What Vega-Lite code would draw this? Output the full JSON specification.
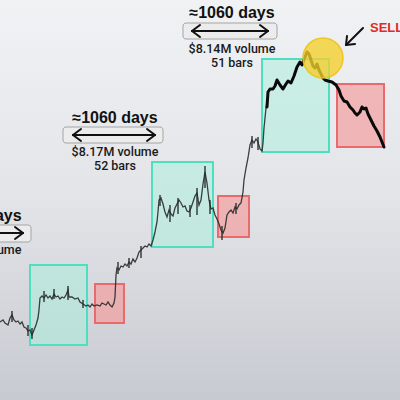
{
  "$schema": "https://vega.github.io/schema/vega-lite/v6.json",
  "width": 400,
  "height": 400,
  "padding": 0,
  "autosize": "none",
  "background": "#e5e6e9",
  "config": {"view": {"stroke": null}},
  "datasets": {
    "bg": [{"x": 0, "y": 0, "x2": 400, "y2": 400}],
    "boxes": [
      {"x": 30, "y": 265, "x2": 87, "y2": 345, "kind": "hold"},
      {"x": 95, "y": 284, "x2": 124, "y2": 323, "kind": "dip"},
      {"x": 152, "y": 162, "x2": 213, "y2": 247, "kind": "hold"},
      {"x": 218, "y": 196, "x2": 249, "y2": 237, "kind": "dip"},
      {"x": 262, "y": 59, "x2": 329, "y2": 152, "kind": "hold"},
      {"x": 337, "y": 84, "x2": 384, "y2": 147, "kind": "dip"}
    ],
    "candles": [
      {"x": 0, "y": 322}, {"x": 3, "y": 320}, {"x": 5, "y": 323}, {"x": 8, "y": 325}, {"x": 10, "y": 318},
      {"x": 12, "y": 315}, {"x": 14, "y": 320}, {"x": 16, "y": 322}, {"x": 18, "y": 321}, {"x": 20, "y": 324},
      {"x": 22, "y": 322}, {"x": 24, "y": 327}, {"x": 26, "y": 328}, {"x": 28, "y": 331}, {"x": 30, "y": 330},
      {"x": 32, "y": 335}, {"x": 34, "y": 330}, {"x": 36, "y": 325}, {"x": 38, "y": 318}, {"x": 39, "y": 310},
      {"x": 40, "y": 298}, {"x": 42, "y": 296}, {"x": 44, "y": 298}, {"x": 46, "y": 295}, {"x": 48, "y": 298},
      {"x": 50, "y": 296}, {"x": 52, "y": 299}, {"x": 54, "y": 294}, {"x": 56, "y": 297}, {"x": 58, "y": 296},
      {"x": 60, "y": 299}, {"x": 62, "y": 297}, {"x": 64, "y": 298}, {"x": 66, "y": 295}, {"x": 68, "y": 290},
      {"x": 69, "y": 297}, {"x": 72, "y": 297}, {"x": 75, "y": 299}, {"x": 78, "y": 298}, {"x": 80, "y": 302},
      {"x": 83, "y": 304}, {"x": 86, "y": 306}, {"x": 88, "y": 305}, {"x": 90, "y": 307}, {"x": 92, "y": 304},
      {"x": 94, "y": 306}, {"x": 97, "y": 305}, {"x": 100, "y": 306}, {"x": 102, "y": 303}, {"x": 104, "y": 304},
      {"x": 106, "y": 305}, {"x": 108, "y": 302}, {"x": 110, "y": 305}, {"x": 112, "y": 307}, {"x": 114, "y": 303},
      {"x": 115, "y": 297}, {"x": 116, "y": 275}, {"x": 117, "y": 268}, {"x": 119, "y": 270}, {"x": 121, "y": 266},
      {"x": 123, "y": 267}, {"x": 125, "y": 264}, {"x": 127, "y": 266}, {"x": 129, "y": 262}, {"x": 131, "y": 264},
      {"x": 133, "y": 259}, {"x": 135, "y": 262}, {"x": 137, "y": 258}, {"x": 139, "y": 252}, {"x": 141, "y": 250},
      {"x": 143, "y": 248}, {"x": 145, "y": 246}, {"x": 147, "y": 247}, {"x": 149, "y": 244}, {"x": 151, "y": 246},
      {"x": 153, "y": 240}, {"x": 155, "y": 232}, {"x": 157, "y": 222}, {"x": 158, "y": 212}, {"x": 159, "y": 200},
      {"x": 161, "y": 198}, {"x": 163, "y": 204}, {"x": 165, "y": 212}, {"x": 167, "y": 217}, {"x": 169, "y": 210},
      {"x": 171, "y": 214}, {"x": 173, "y": 216}, {"x": 175, "y": 208}, {"x": 177, "y": 204}, {"x": 179, "y": 200},
      {"x": 181, "y": 203}, {"x": 183, "y": 207}, {"x": 185, "y": 206}, {"x": 187, "y": 211}, {"x": 189, "y": 212},
      {"x": 191, "y": 208}, {"x": 193, "y": 202}, {"x": 195, "y": 196}, {"x": 197, "y": 193}, {"x": 199, "y": 205},
      {"x": 201, "y": 200}, {"x": 203, "y": 184}, {"x": 205, "y": 172}, {"x": 207, "y": 183}, {"x": 209, "y": 200},
      {"x": 211, "y": 209}, {"x": 213, "y": 208}, {"x": 215, "y": 215}, {"x": 217, "y": 219}, {"x": 219, "y": 224},
      {"x": 221, "y": 230}, {"x": 223, "y": 233}, {"x": 225, "y": 228}, {"x": 227, "y": 215}, {"x": 229, "y": 212},
      {"x": 231, "y": 210}, {"x": 233, "y": 213}, {"x": 235, "y": 207}, {"x": 237, "y": 209}, {"x": 239, "y": 205},
      {"x": 241, "y": 203}, {"x": 243, "y": 192}, {"x": 244, "y": 180}, {"x": 246, "y": 168}, {"x": 248, "y": 158},
      {"x": 250, "y": 145}, {"x": 252, "y": 140}, {"x": 254, "y": 143}, {"x": 256, "y": 139}, {"x": 258, "y": 142},
      {"x": 260, "y": 149}, {"x": 262, "y": 151}, {"x": 263, "y": 143}, {"x": 264, "y": 128}, {"x": 265, "y": 118},
      {"x": 266, "y": 108}, {"x": 267, "y": 102}
    ],
    "wicks": [
      {"x": 12, "y": 311, "y2": 322}, {"x": 28, "y": 325, "y2": 336}, {"x": 32, "y": 328, "y2": 339},
      {"x": 44, "y": 291, "y2": 302}, {"x": 54, "y": 289, "y2": 299}, {"x": 68, "y": 286, "y2": 300},
      {"x": 83, "y": 300, "y2": 308}, {"x": 118, "y": 262, "y2": 274}, {"x": 129, "y": 258, "y2": 268},
      {"x": 141, "y": 246, "y2": 258}, {"x": 160, "y": 195, "y2": 206}, {"x": 170, "y": 205, "y2": 222},
      {"x": 178, "y": 198, "y2": 214}, {"x": 190, "y": 205, "y2": 217}, {"x": 197, "y": 188, "y2": 215},
      {"x": 205, "y": 166, "y2": 188}, {"x": 210, "y": 200, "y2": 214}, {"x": 222, "y": 226, "y2": 240},
      {"x": 236, "y": 203, "y2": 214}, {"x": 252, "y": 136, "y2": 148}, {"x": 258, "y": 137, "y2": 150}
    ],
    "trend": [
      {"x": 267, "y": 107}, {"x": 268, "y": 92}, {"x": 270, "y": 89}, {"x": 273, "y": 89}, {"x": 275, "y": 86},
      {"x": 277, "y": 80}, {"x": 280, "y": 85}, {"x": 283, "y": 89}, {"x": 286, "y": 84}, {"x": 288, "y": 81},
      {"x": 291, "y": 83}, {"x": 294, "y": 76}, {"x": 297, "y": 67}, {"x": 300, "y": 62}, {"x": 302, "y": 65},
      {"x": 305, "y": 57}, {"x": 307, "y": 52}, {"x": 309, "y": 54}, {"x": 311, "y": 60}, {"x": 313, "y": 66},
      {"x": 315, "y": 68}, {"x": 317, "y": 64}, {"x": 319, "y": 70}, {"x": 321, "y": 74}, {"x": 323, "y": 78},
      {"x": 325, "y": 80}, {"x": 328, "y": 81}, {"x": 332, "y": 82}, {"x": 336, "y": 85}, {"x": 339, "y": 90},
      {"x": 341, "y": 96}, {"x": 344, "y": 101}, {"x": 347, "y": 102}, {"x": 350, "y": 107}, {"x": 353, "y": 110},
      {"x": 355, "y": 113}, {"x": 357, "y": 115}, {"x": 360, "y": 112}, {"x": 362, "y": 107}, {"x": 364, "y": 109},
      {"x": 366, "y": 108}, {"x": 368, "y": 114}, {"x": 371, "y": 120}, {"x": 374, "y": 126}, {"x": 377, "y": 131},
      {"x": 380, "y": 137}, {"x": 384, "y": 147}
    ],
    "circle": [{"x": 323, "y": 58}],
    "labelboxes": [
      {"x": 183, "y": 23, "x2": 277, "y2": 39},
      {"x": 63, "y": 127, "x2": 163, "y2": 143},
      {"x": -72, "y": 225, "x2": 31, "y2": 242}
    ],
    "segments": [
      {"x": 192, "y": 31, "x2": 268, "y2": 31}, {"x": 192, "y": 31, "x2": 200, "y2": 25}, {"x": 192, "y": 31, "x2": 200, "y2": 37},
      {"x": 268, "y": 31, "x2": 260, "y2": 25}, {"x": 268, "y": 31, "x2": 260, "y2": 37},
      {"x": 73, "y": 135, "x2": 155, "y2": 135}, {"x": 73, "y": 135, "x2": 81, "y2": 129}, {"x": 73, "y": 135, "x2": 81, "y2": 141},
      {"x": 155, "y": 135, "x2": 147, "y2": 129}, {"x": 155, "y": 135, "x2": 147, "y2": 141},
      {"x": -60, "y": 233, "x2": 23, "y2": 233}, {"x": 23, "y": 233, "x2": 15, "y2": 227}, {"x": 23, "y": 233, "x2": 15, "y2": 239},
      {"x": 363, "y": 28, "x2": 346, "y2": 45}, {"x": 346, "y": 45, "x2": 347, "y2": 36}, {"x": 346, "y": 45, "x2": 355, "y2": 44}
    ],
    "titles": [
      {"x": 232, "y": 18, "t": "≈1060 days"},
      {"x": 115, "y": 123, "t": "≈1060 days"},
      {"x": -21, "y": 221, "t": "≈1060 days"}
    ],
    "subs": [
      {"x": 232, "y": 53, "t": "$8.14M volume"},
      {"x": 232, "y": 67, "t": "51 bars"},
      {"x": 115, "y": 156, "t": "$8.17M volume"},
      {"x": 115, "y": 170, "t": "52 bars"},
      {"x": -22, "y": 254, "t": "$8.20M volume"}
    ],
    "sell": [{"x": 370, "y": 32, "t": "SELL"}]
  },
  "layer": [
    {
      "data": {"name": "bg"},
      "mark": {"type": "rect", "fill": {"gradient": "linear", "x1": 0, "y1": 0, "x2": 0, "y2": 1, "stops": [{"offset": 0, "color": "#f1f2f4"}, {"offset": 0.5, "color": "#e3e4e8"}, {"offset": 1, "color": "#c7cad1"}]}},
      "encoding": {
        "x": {"field": "x", "type": "quantitative", "scale": {"domain": [0, 400], "nice": false, "zero": false}, "axis": null},
        "x2": {"field": "x2"},
        "y": {"field": "y", "type": "quantitative", "scale": {"domain": [0, 400], "nice": false, "zero": false, "reverse": true}, "axis": null},
        "y2": {"field": "y2"}
      }
    },
    {
      "data": {"name": "boxes"},
      "mark": {"type": "rect", "strokeWidth": 2},
      "encoding": {
        "x": {"field": "x", "type": "quantitative"},
        "x2": {"field": "x2"},
        "y": {"field": "y", "type": "quantitative"},
        "y2": {"field": "y2"},
        "fill": {"field": "kind", "type": "nominal", "scale": {"domain": ["hold", "dip"], "range": ["#a8f0dc", "#f59a9a"]}, "legend": null},
        "fillOpacity": {"field": "kind", "type": "nominal", "scale": {"domain": ["hold", "dip"], "range": [0.5, 0.65]}, "legend": null},
        "stroke": {"field": "kind", "type": "nominal", "scale": {"domain": ["hold", "dip"], "range": ["#4ddfbf", "#e86a6a"]}, "legend": null}
      }
    },
    {
      "data": {"name": "candles"},
      "mark": {"type": "line", "color": "#262b2a", "strokeWidth": 1.3, "opacity": 0.9},
      "encoding": {
        "x": {"field": "x", "type": "quantitative"},
        "y": {"field": "y", "type": "quantitative"}
      }
    },
    {
      "data": {"name": "wicks"},
      "mark": {"type": "rule", "color": "#262b2a", "strokeWidth": 1.5, "opacity": 0.9},
      "encoding": {
        "x": {"field": "x", "type": "quantitative"},
        "y": {"field": "y", "type": "quantitative"},
        "y2": {"field": "y2"}
      }
    },
    {
      "data": {"name": "trend"},
      "mark": {"type": "line", "color": "#0a0a0a", "strokeWidth": 3, "strokeCap": "round", "strokeJoin": "round"},
      "encoding": {
        "x": {"field": "x", "type": "quantitative"},
        "y": {"field": "y", "type": "quantitative"}
      }
    },
    {
      "data": {"name": "circle"},
      "mark": {"type": "point", "shape": "circle", "size": 1600, "filled": true, "fill": "#f5cf2a", "fillOpacity": 0.78, "stroke": "#efc21a", "strokeWidth": 1.5, "strokeOpacity": 0.9},
      "encoding": {
        "x": {"field": "x", "type": "quantitative"},
        "y": {"field": "y", "type": "quantitative"}
      }
    },
    {
      "data": {"name": "labelboxes"},
      "mark": {"type": "rect", "fill": "#ececed", "stroke": "#a4a4a8", "strokeWidth": 1, "cornerRadius": 3},
      "encoding": {
        "x": {"field": "x", "type": "quantitative"},
        "x2": {"field": "x2"},
        "y": {"field": "y", "type": "quantitative"},
        "y2": {"field": "y2"}
      }
    },
    {
      "data": {"name": "segments"},
      "mark": {"type": "rule", "color": "#111111", "strokeWidth": 2, "strokeCap": "round"},
      "encoding": {
        "x": {"field": "x", "type": "quantitative"},
        "x2": {"field": "x2"},
        "y": {"field": "y", "type": "quantitative"},
        "y2": {"field": "y2"}
      }
    },
    {
      "data": {"name": "titles"},
      "mark": {"type": "text", "font": "Liberation Sans", "fontSize": 16, "fontWeight": "bold", "color": "#111111", "align": "center", "baseline": "alphabetic"},
      "encoding": {
        "x": {"field": "x", "type": "quantitative"},
        "y": {"field": "y", "type": "quantitative"},
        "text": {"field": "t"}
      }
    },
    {
      "data": {"name": "subs"},
      "mark": {"type": "text", "font": "Roboto", "fontSize": 12.5, "fontWeight": 500, "color": "#1a1a1a", "align": "center", "baseline": "alphabetic"},
      "encoding": {
        "x": {"field": "x", "type": "quantitative"},
        "y": {"field": "y", "type": "quantitative"},
        "text": {"field": "t"}
      }
    },
    {
      "data": {"name": "sell"},
      "mark": {"type": "text", "font": "Liberation Sans", "fontSize": 13, "fontWeight": "bold", "color": "#e12a2a", "align": "left", "baseline": "alphabetic"},
      "encoding": {
        "x": {"field": "x", "type": "quantitative"},
        "y": {"field": "y", "type": "quantitative"},
        "text": {"field": "t"}
      }
    }
  ]
}
